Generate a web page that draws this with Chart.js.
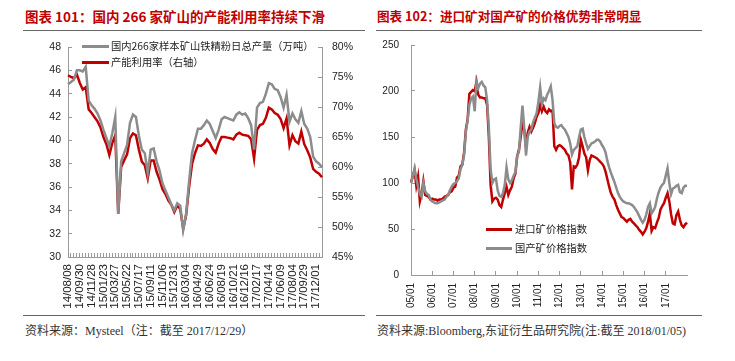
<!DOCTYPE html>
<html>
<head>
<meta charset="utf-8">
<script src="https://cdn.jsdelivr.net/npm/chart.js@4"></script>
<style>
  body { margin: 0; background: #fff; width: 735px; height: 361px; position: relative; overflow: hidden; font-family: "Noto Sans CJK SC", sans-serif; }
  .title { position: absolute; top: 6px; color: #c00000; font-size: 13.5px; font-weight: bold; white-space: nowrap; }
  .rule { position: absolute; height: 1px; background: #666; }
  .src { position: absolute; top: 321px; font-family: "Liberation Serif", "Noto Sans CJK SC", serif; font-size: 12px; color: #333; white-space: nowrap; }
  .box { position: absolute; top: 35px; }
  .lgline { position: absolute; height: 3px; width: 27px; }
  .lgtext { position: absolute; font-size: 10.3px; line-height: 12px; color: #222; white-space: nowrap; }
</style>
</head>
<body>
<div class="title" style="left:25px">图表 101：国内 266 家矿山的产能利用率持续下滑</div>
<div class="title" style="left:377px; font-size:12.6px">图表 102：进口矿对国产矿的价格优势非常明显</div>
<div class="rule" style="left:23px; width:342px; top:30px"></div>
<div class="rule" style="left:376px; width:326px; top:30px"></div>

<div class="box" style="left:0"><canvas id="prodChart" width="365" height="280"></canvas></div>
<div class="box" style="left:365px"><canvas id="priceChart" width="370" height="280"></canvas></div>

<div class="lgline" style="left:82px; top:45px; background:#8c8c8c"></div>
<div class="lgtext" style="left:111px; top:40px">国内266家样本矿山铁精粉日总产量（万吨）</div>
<div class="lgline" style="left:82px; top:61px; background:#c00000"></div>
<div class="lgtext" style="left:111px; top:56px">产能利用率（右轴）</div>

<div class="lgline" style="left:486px; top:228px; width:26px; background:#c00000"></div>
<div class="lgtext" style="left:515px; top:223px">进口矿价格指数</div>
<div class="lgline" style="left:486px; top:247px; width:26px; background:#8c8c8c"></div>
<div class="lgtext" style="left:515px; top:242px">国产矿价格指数</div>

<div class="rule" style="left:23px; width:342px; top:315px"></div>
<div class="rule" style="left:376px; width:326px; top:315px"></div>
<div class="src" style="left:25px">资料来源：Mysteel（注：截至 2017/12/29）</div>
<div class="src" style="left:377px">资料来源:Bloomberg,东证衍生品研究院(注:截至 2018/01/05)</div>

<script>
// 图表101：每两周一个点，每4个点一个日期标签
const prodDates = ['14/08/08', '14/09/30', '14/11/28', '15/01/23', '15/03/27', '15/05/22', '15/07/17',
  '15/09/11', '15/11/06', '15/12/31', '16/03/04', '16/04/29', '16/06/24', '16/08/19', '16/10/21',
  '16/12/16', '17/02/17', '17/04/14', '17/06/09', '17/08/04', '17/09/29', '17/12/01'];

// 日总产量（万吨）
const prodOutput = [44.8, 45.0, 45.2, 46.0, 46.0, 45.9, 46.3, 43.4, 43.0, 42.7,
  42.3, 41.7, 40.9, 40.2, 39.5, 40.6, 42.0, 33.7, 38.2, 38.9,
  39.6, 41.5, 42.2, 42.0, 40.4, 39.2, 38.9, 37.2, 39.2, 39.3,
  38.2, 37.4, 36.3, 35.7, 35.1, 34.5, 34.0, 34.6, 34.4, 32.3,
  33.7, 36.5, 38.9, 40.0, 41.0, 41.0, 41.3, 41.7, 41.4, 40.8,
  40.2, 40.9, 41.8, 42.0, 41.9, 41.8, 41.7, 42.2, 42.4, 42.2,
  42.3, 41.9, 41.3, 39.2, 42.8, 43.2, 43.3, 44.0, 44.9, 44.8,
  44.4, 44.3, 43.7, 42.8, 43.9, 41.6, 42.3, 41.8, 41.5, 42.5,
  41.4, 41.0, 40.3, 38.6, 38.2, 38.0, 37.7];

// 产能利用率（%）
const prodUtil = [75.3, 75.0, 74.8, 75.4, 74.0, 72.9, 73.3, 69.6, 69.0, 68.3,
  67.6, 66.6, 65.0, 63.8, 62.0, 64.0, 65.3, 52.2, 60.0, 61.1,
  62.1, 64.8, 65.6, 65.3, 62.9, 60.9, 60.3, 58.1, 61.1, 61.1,
  59.2, 57.9, 56.3, 55.5, 54.4, 53.7, 52.5, 53.6, 53.0, 49.7,
  52.0, 56.7, 60.5, 62.3, 63.6, 63.5, 63.9, 64.6, 64.0, 63.0,
  62.4, 63.9, 65.0, 65.0, 64.9, 64.8, 64.6, 65.4, 65.7, 65.4,
  65.3, 65.2, 64.6, 61.4, 66.2, 67.0, 67.2, 68.2, 69.9, 69.6,
  69.0, 68.7, 68.0, 66.5, 68.1, 63.6, 65.3, 64.3, 63.9, 65.9,
  63.8, 62.8, 61.6, 59.7, 59.2, 58.9, 58.3];

// 图表102：月度，2005/01 - 2018/01
const priceYears = ['05/01', '06/01', '07/01', '08/01', '09/01', '10/01', '11/01',
  '12/01', '13/01', '14/01', '15/01', '16/01', '17/01'];

const importIndex = [101, 107, 114, 97, 107, 80, 88, 102, 87, 86,
  85, 82, 83, 82, 82, 81, 82, 82, 83, 85,
  86, 87, 90, 91, 95, 96, 106, 108, 118, 120,
  133, 158, 169, 197, 199, 201, 200, 210, 196, 193,
  193, 192, 192, 185, 150, 98, 80, 83, 84, 82,
  76, 74, 82, 89, 96, 87, 92, 96, 105, 110,
  129, 136, 150, 165, 158, 140, 155, 161, 156, 160,
  165, 172, 176, 185, 178, 183, 178, 176, 180, 178,
  179, 140, 136, 140, 141, 140, 138, 136, 132, 130,
  122, 93, 118, 117, 120, 128, 147, 140, 132, 128,
  114, 125, 130, 129, 128, 127, 125, 123, 121, 118,
  112, 104, 96, 89, 85, 82, 76, 71, 67, 63,
  62, 60, 58, 60, 61, 58, 56, 54, 52, 49,
  47, 44, 47, 51, 58, 67, 48, 52, 51, 57,
  62, 71, 75, 78, 84, 89, 80, 66, 56, 55,
  65, 69, 60, 54, 52, 55, 57];

const domesticIndex = [100, 107, 116, 105, 96, 88, 85, 100, 91, 88,
  87, 82, 80, 79, 78, 78, 79, 80, 81, 82,
  85, 87, 92, 96, 99, 100, 102, 105, 115, 120,
  130, 155, 168, 185, 192, 194, 178, 210, 203, 208,
  210, 206, 204, 190, 160, 115, 100, 104, 105, 92,
  86, 85, 89, 98, 117, 104, 100, 103, 108, 112,
  129, 134, 160, 184, 160, 130, 150, 156, 158, 166,
  171, 176, 188, 204, 186, 192, 190, 196, 200, 205,
  190, 165, 161, 160, 162, 163, 160, 158, 154, 150,
  143, 131, 136, 138, 140, 150, 158, 159, 150, 143,
  137, 140, 143, 144, 145, 147, 147, 145, 141, 138,
  133, 124, 117, 111, 106, 101, 95, 89, 85, 82,
  80, 79, 78, 78, 77, 76, 74, 71, 68, 64,
  60, 57, 60, 66, 74, 78, 67, 70, 74, 83,
  90, 95, 98, 100, 108, 116, 100, 88, 94, 95,
  97, 98, 90, 89, 95, 97, 97];

const RED = '#c00000';
const GRAY = '#8c8c8c';
const AXIS = '#999';
const tickFont = { family: 'Liberation Sans, Arial, sans-serif', size: 10.5 };

// 类别标签：只在每4个点处显示日期
const prodLabels = prodOutput.map((v, i) => (i % 4 === 0 && prodDates[i / 4]) ? prodDates[i / 4] : '');
const priceLabels = importIndex.map((v, i) => (i % 12 === 0 && priceYears[i / 12]) ? priceYears[i / 12] : '');

// 刻度线朝内（负的 tickLength），padding 补回去；
// 纵轴的 padding 会被算进上下留白，所以 afterFit 里重设
const fixY = w => s => { s.width = w; s.paddingTop = 6; s.paddingBottom = 6; };

new Chart(document.getElementById('prodChart'), {
  type: 'line',
  data: {
    labels: prodLabels,
    datasets: [{
      label: '国内266家样本矿山铁精粉日总产量（万吨）',
      data: prodOutput,
      yAxisID: 'y',
      borderColor: GRAY,
      borderWidth: 2.5,
      pointRadius: 0,
      tension: 0
    }, {
      label: '产能利用率（右轴）',
      data: prodUtil,
      yAxisID: 'y1',
      borderColor: RED,
      borderWidth: 2.5,
      pointRadius: 0,
      tension: 0
    }]
  },
  options: {
    responsive: false,
    animation: false,
    layout: { padding: { top: 12, left: 0, right: 0, bottom: 0 } },
    plugins: { legend: { display: false }, tooltip: { enabled: false } },
    scales: {
      x: {
        ticks: { autoSkip: false, minRotation: 90, maxRotation: 90, padding: 11, color: '#222', font: { family: tickFont.family, size: 11.5 } },
        grid: { drawOnChartArea: false, tickLength: -4, color: AXIS },
        border: { color: AXIS },
        afterFit: s => { s.height = 58; }
      },
      y: {
        position: 'left',
        min: 30, max: 48,
        ticks: { stepSize: 2, padding: 11, color: '#222', font: tickFont },
        grid: { drawOnChartArea: false, tickLength: -4, color: AXIS },
        border: { color: AXIS },
        afterFit: fixY(68)
      },
      y1: {
        position: 'right',
        min: 45, max: 80,
        ticks: { stepSize: 5, padding: 14, color: '#222', font: tickFont, callback: v => v + '%' },
        grid: { drawOnChartArea: false, tickLength: -4, color: AXIS },
        border: { color: AXIS },
        afterFit: fixY(43)
      }
    }
  }
});

new Chart(document.getElementById('priceChart'), {
  type: 'line',
  data: {
    labels: priceLabels,
    datasets: [{
      label: '国产矿价格指数',
      data: domesticIndex,
      borderColor: GRAY,
      borderWidth: 2.5,
      pointRadius: 0,
      tension: 0,
      order: 0
    }, {
      label: '进口矿价格指数',
      data: importIndex,
      borderColor: RED,
      borderWidth: 2.5,
      pointRadius: 0,
      tension: 0,
      order: 1
    }]
  },
  options: {
    responsive: false,
    animation: false,
    layout: { padding: { top: 10, left: 0, right: 48, bottom: 0 } },
    plugins: { legend: { display: false }, tooltip: { enabled: false } },
    scales: {
      x: {
        ticks: { autoSkip: false, minRotation: 90, maxRotation: 90, padding: 12, color: '#222', font: { family: tickFont.family, size: 10 } },
        grid: { drawOnChartArea: false, tickLength: -4, color: AXIS },
        border: { color: AXIS },
        afterBuildTicks: axis => { axis.ticks = axis.ticks.filter(t => priceLabels[t.value] !== ''); },
        afterFit: s => { s.height = 40; }
      },
      y: {
        min: 0, max: 250,
        ticks: { stepSize: 50, padding: 16, color: '#222', font: { family: tickFont.family, size: 10 } },
        grid: { drawOnChartArea: false, tickLength: -4, color: AXIS },
        border: { color: AXIS },
        afterFit: fixY(46)
      }
    }
  }
});
</script>
</body>
</html>
